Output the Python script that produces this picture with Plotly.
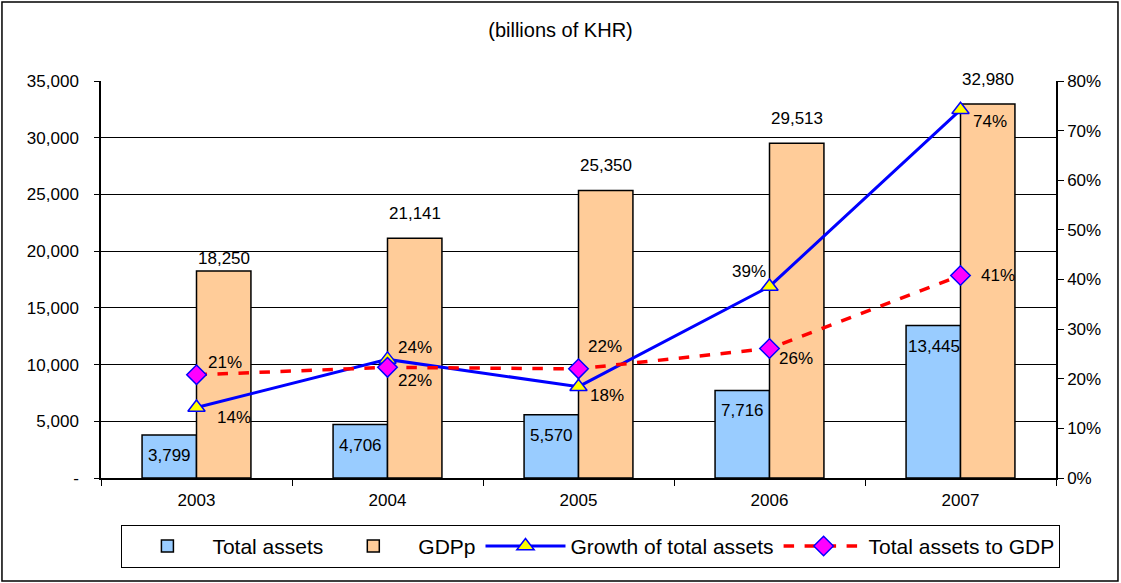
import plotly.graph_objects as go

# data (billions of KHR)
years = ["2003", "2004", "2005", "2006", "2007"]
total_assets = [3799, 4706, 5570, 7716, 13445]
gdp = [18250, 21141, 25350, 29513, 32980]
growth = [0.142, 0.239, 0.184, 0.386, 0.742]
assets_to_gdp = [0.208, 0.223, 0.220, 0.261, 0.408]

left_ticks = [0, 5000, 10000, 15000, 20000, 25000, 30000, 35000]
left_ticktext = ["-", "5,000", "10,000", "15,000", "20,000", "25,000", "30,000", "35,000"]

FONT = "Liberation Sans, Arial, sans-serif"
LABEL = dict(size=17, color="black")

fig = go.Figure()

fig.add_trace(go.Bar(
    name="Total assets", x=years, y=total_assets,
    marker=dict(color="#99CCFF", line=dict(color="black", width=1.5)),
))
fig.add_trace(go.Bar(
    name="GDPp", x=years, y=gdp,
    marker=dict(color="#FFCC99", line=dict(color="black", width=1.5)),
))
fig.add_trace(go.Scatter(
    name="Growth of total assets", x=years, y=growth, yaxis="y2",
    mode="lines+markers",
    line=dict(color="#0000FF", width=3),
    marker=dict(symbol="triangle-up", size=15, color="#FFFF00",
                line=dict(color="#0000FF", width=1.5)),
))
fig.add_trace(go.Scatter(
    name="Total assets to GDP", x=years, y=assets_to_gdp, yaxis="y2",
    mode="lines+markers",
    line=dict(color="#FF0000", width=3.5, dash="dash"),
    marker=dict(symbol="diamond", size=15, color="#FF00FF",
                line=dict(color="#0000FF", width=1.5)),
))

# label offsets (px) copied from where excel put them
gdp_label_shift = [1, 13, 13, 13, 13]
growth_dx = [18, 8, 9, -2, 10]
growth_dy = [-10, 12, -9, 15, -12]
ratio_dx = [9, 8, 7, 7, 18]
ratio_dy = [12, -13, 22, -10, 0]

# x is the category index here: a "2003" string would be read as index 2003
for i in range(len(years)):
    # total assets: inside, just under the top of the bar
    fig.add_annotation(x=i, y=total_assets[i], text=f"{total_assets[i]:,}",
                       xshift=-27, yshift=-9, yanchor="top", showarrow=False, font=LABEL)
    # GDP: above the bar
    fig.add_annotation(x=i, y=gdp[i], text=f"{gdp[i]:,}",
                       xshift=27, yshift=gdp_label_shift[i], yanchor="bottom",
                       showarrow=False, font=LABEL)
    # line labels
    fig.add_annotation(x=i, y=growth[i], yref="y2", text=f"{growth[i]:.0%}",
                       xanchor="right" if growth_dx[i] < 0 else "left",
                       xshift=growth_dx[i], yshift=growth_dy[i], showarrow=False, font=LABEL)
    fig.add_annotation(x=i, y=assets_to_gdp[i], yref="y2", text=f"{assets_to_gdp[i]:.0%}",
                       xanchor="left", xshift=ratio_dx[i], yshift=ratio_dy[i],
                       showarrow=False, font=LABEL)

fig.update_layout(
    width=1121, height=583,
    margin=dict(l=101, r=65, t=81, b=105),
    paper_bgcolor="white", plot_bgcolor="white",
    font=dict(family=FONT, size=17, color="black"),
    title=dict(text="(billions of KHR)", x=0.5, xref="container", y=0.949,
               yanchor="middle", font=dict(size=20)),
    barmode="group", bargap=0.43, bargroupgap=0,
    showlegend=True,
    legend=dict(orientation="h", x=0.513, xanchor="center", y=-0.118, yanchor="top",
                bordercolor="black", borderwidth=1, bgcolor="white",
                font=dict(size=21), itemwidth=80, traceorder="normal"),
    xaxis=dict(type="category", showline=True, linecolor="black", linewidth=1.5,
               automargin=False, ticks="outside", tickson="boundaries", ticklen=6,
               tickcolor="black", ticklabelstandoff=6, showgrid=False),
    yaxis=dict(range=[0, 35000], tickvals=left_ticks, ticktext=left_ticktext,
               showline=True, linecolor="black", linewidth=1.5, automargin=False,
               ticks="outside", ticklen=5, tickcolor="black", ticklabelstandoff=12,
               showgrid=True, gridcolor="black", gridwidth=1, zeroline=False),
    yaxis2=dict(range=[0, 0.8], dtick=0.1, tickformat=".0%", overlaying="y", side="right",
                showline=True, linecolor="black", linewidth=1.5, automargin=False,
                ticks="outside", ticklen=6, tickcolor="black",
                showgrid=False, zeroline=False),
)

# outer frame of the chart
fig.add_shape(type="rect", xref="paper", yref="paper",
              x0=-0.1037, x1=1.0649, y0=-0.2594, y1=1.199,
              line=dict(color="black", width=1.5), layer="above")

# drop the browser's default body margin so the figure sits at 0,0
fig.write_html("out.html", config={"displayModeBar": False},
               post_script="document.body.style.margin='0';")
